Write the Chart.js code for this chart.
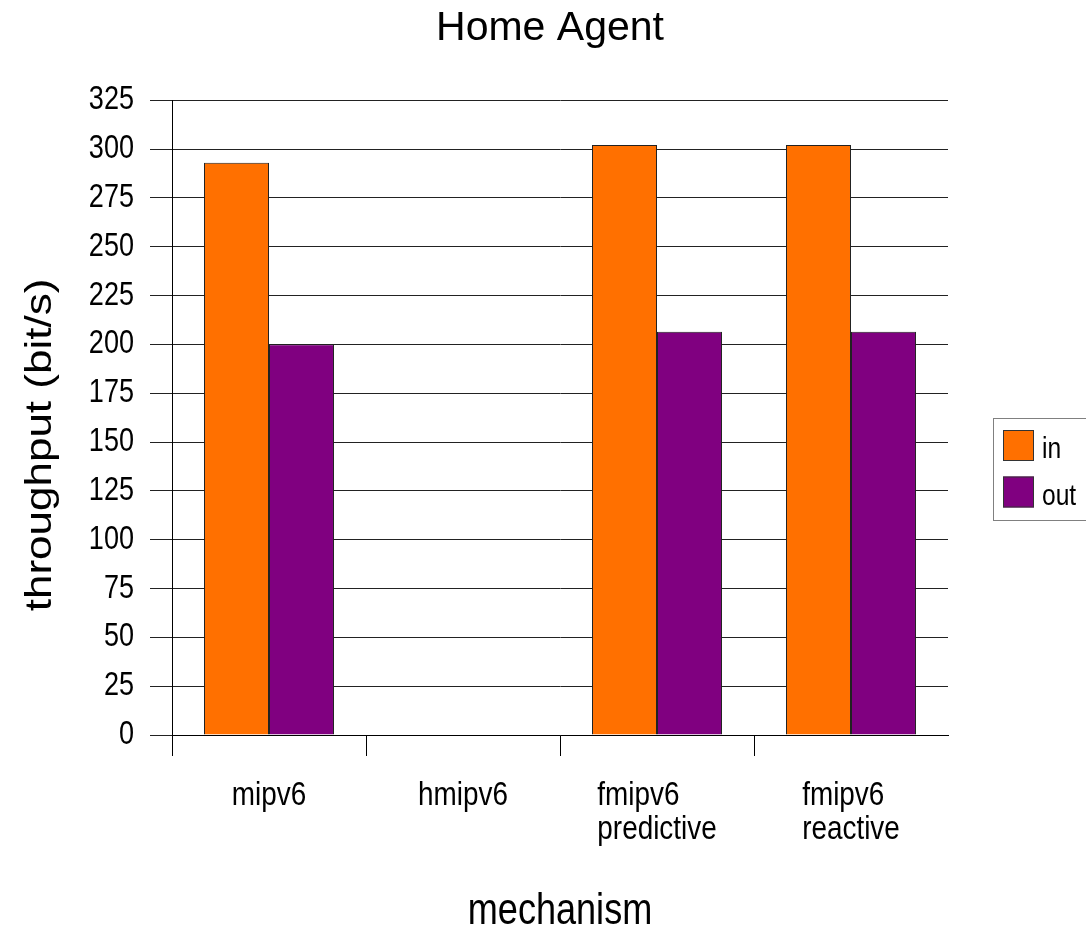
<!DOCTYPE html>
<html>
<head>
<meta charset="utf-8">
<title>Home Agent</title>
<script src="https://cdn.jsdelivr.net/npm/chart.js@4/dist/chart.umd.min.js"></script>
<style>
  html, body { margin: 0; padding: 0; background: #ffffff; }
  #wrap { width: 1086px; height: 927px; position: relative; }
</style>
</head>
<body>
<div id="wrap"><canvas id="chart" width="1086" height="927"></canvas></div>
<script>
// Categories on the x axis (multi-line labels are arrays of lines)
const categories = [['mipv6'], ['hmipv6'], ['fmipv6', 'predictive'], ['fmipv6', 'reactive']];
// Series names
const seriesNames = ['in', 'out'];
// Throughput per mechanism (bit/s)
const inValues = [293, 0, 302, 302];
const outValues = [200, 0, 206.5, 206.5];
// Y axis tick range
const yMin = 0;
const yMax = 325;
const yStep = 25;

const seriesColors = ['#ff7000', '#800080'];
const FONT = "'Liberation Sans', Arial, sans-serif";
const NARROW_X = 0.82; // horizontal squeeze for the condensed axis lettering

// Draws one line of condensed text: squeezed along the writing direction
function narrowText(ctx, text, x, y, size, align, baseline, angle) {
  ctx.save();
  ctx.translate(x, y);
  if (angle) ctx.rotate(angle);
  if (angle) ctx.scale(1, NARROW_X); else ctx.scale(NARROW_X, 1);
  ctx.font = size + 'px ' + FONT;
  ctx.fillStyle = '#000000';
  ctx.textAlign = align;
  ctx.textBaseline = baseline;
  ctx.fillText(text, 0, 0);
  ctx.restore();
}

// Axis lettering: y tick labels, x category labels, axis titles
const axisLettering = {
  id: 'axisLettering',
  afterDraw(chart) {
    const ctx = chart.ctx;
    const xs = chart.scales.x;
    const ys = chart.scales.y;

    // y tick labels, right-aligned next to the tick marks
    ys.ticks.forEach(t => {
      narrowText(ctx, t.label, 134, ys.getPixelForValue(t.value), 33, 'right', 'middle');
    });

    // x category labels: left-aligned line blocks centred on each category
    ctx.save();
    ctx.font = '34px ' + FONT;
    chart.data.labels.forEach((lines, i) => {
      const cx = xs.getPixelForValue(i);
      const w = Math.max(...lines.map(l => ctx.measureText(l).width)) * NARROW_X;
      lines.forEach((line, j) => {
        narrowText(ctx, line, cx - w / 2, xs.top + 70 + j * 34, 34, 'left', 'alphabetic');
      });
    });
    ctx.restore();

    // x axis title
    const ca = chart.chartArea;
    narrowText(ctx, 'mechanism', (ca.left + ca.right) / 2, 924, 44, 'center', 'alphabetic');

    // y axis title, rotated
    narrowText(ctx, 'throughput (bit/s)', 41, 445, 44, 'center', 'middle', -Math.PI / 2);
  }
};

// Boxed legend to the right of the plot
const boxedLegend = {
  id: 'boxedLegend',
  afterDraw(chart) {
    const ctx = chart.ctx;
    ctx.save();
    ctx.strokeStyle = '#808080';
    ctx.lineWidth = 1;
    ctx.strokeRect(993.5, 418.5, 100, 102);
    chart.data.datasets.forEach((ds, i) => {
      const y = 430 + i * 46.5;
      ctx.fillStyle = ds.backgroundColor;
      ctx.fillRect(1003, y, 31, 31);
      ctx.strokeStyle = '#333333';
      ctx.strokeRect(1003.5, y + 0.5, 30, 30);
      narrowText(ctx, ds.label, 1042, y + 28, 30, 'left', 'alphabetic');
    });
    ctx.restore();
  }
};

new Chart(document.getElementById('chart'), {
  type: 'bar',
  data: {
    labels: categories,
    datasets: [
      { label: seriesNames[0], data: inValues, backgroundColor: seriesColors[0], borderColor: '#222222', borderWidth: 1 },
      { label: seriesNames[1], data: outValues, backgroundColor: seriesColors[1], borderColor: '#222222', borderWidth: 1 }
    ]
  },
  options: {
    responsive: false,
    animation: false,
    devicePixelRatio: 1,
    layout: { padding: { left: 14, right: 0, top: 0, bottom: 0 } },
    datasets: { bar: { categoryPercentage: 0.67, barPercentage: 1.0 } },
    plugins: {
      legend: { display: false },
      tooltip: { enabled: false },
      title: {
        display: true,
        text: 'Home Agent',
        color: '#000000',
        font: { family: FONT, size: 41, weight: 'normal' },
        padding: { top: 4, bottom: 47 }
      }
    },
    scales: {
      x: {
        grid: {
          display: true,
          drawOnChartArea: false,
          drawTicks: true,
          tickLength: 21,
          tickColor: c => (c.type === 'tick' ? '#000000' : 'rgba(0,0,0,0)'),
          tickWidth: 1
        },
        border: { display: true, color: '#000000', width: 1 },
        ticks: { display: false },
        title: { display: false },
        afterFit(s) { s.height = 192; }
      },
      y: {
        min: yMin,
        max: yMax,
        grid: { color: '#222222', lineWidth: 1, tickLength: 22, tickColor: '#222222' },
        border: { display: true, color: '#000000', width: 1 },
        ticks: {
          stepSize: yStep,
          color: 'rgba(0,0,0,0)',
          padding: 17,
          font: { family: FONT, size: 33 }
        },
        afterFit(s) { s.width = 158; }
      },
      legendSpace: {
        type: 'linear',
        position: 'right',
        display: true,
        grid: { display: false },
        border: { display: false },
        ticks: { display: false },
        afterFit(s) { s.width = 138; }
      }
    }
  },
  plugins: [axisLettering, boxedLegend]
});
</script>
</body>
</html>
